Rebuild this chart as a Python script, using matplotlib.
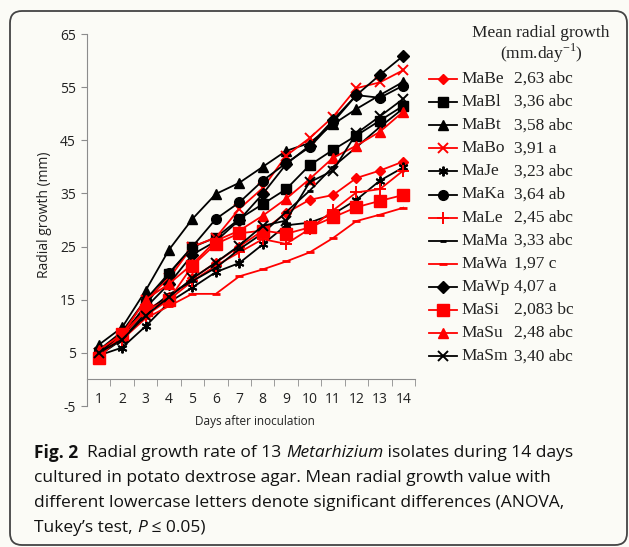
import matplotlib
matplotlib.use("Agg")
import matplotlib.pyplot as plt
from matplotlib.lines import Line2D
from matplotlib.patches import FancyBboxPatch

plt.rcParams["axes.unicode_minus"] = False

days = list(range(1, 15))
day_labels = [str(d) for d in days]

isolates = ["MaBe", "MaBl", "MaBt", "MaBo", "MaJe", "MaKa", "MaLe",
            "MaMa", "MaWa", "MaWp", "MaSi", "MaSu", "MaSm"]
mean_rates = ["2,63 abc", "3,36 abc", "3,58 abc", "3,91 a", "3,23 abc", "3,64 ab",
              "2,45 abc", "3,33 abc", "1,97 c", "4,07 a", "2,083 bc", "2,48 abc", "3,40 abc"]

MaBe = [5.5, 8.0, 13.0, 15.5, 19.0, 22.0, 25.0, 28.0, 31.3, 33.8, 34.7, 37.9, 39.3, 41.0]
MaBl = [4.5, 8.0, 14.0, 19.9, 24.9, 26.7, 30.2, 33.0, 35.8, 40.3, 43.2, 45.9, 48.7, 51.5]
MaBt = [6.5, 9.8, 16.7, 24.4, 30.2, 34.9, 37.0, 40.0, 43.0, 44.5, 48.0, 50.9, 53.5, 56.0]
MaBo = [5.0, 8.5, 15.0, 19.0, 25.0, 26.7, 32.1, 36.0, 42.1, 45.4, 49.4, 54.8, 55.9, 58.2]
MaJe = [4.5, 6.0, 10.0, 14.5, 17.3, 20.2, 21.9, 25.4, 29.0, 29.5, 31.1, 33.8, 37.4, 39.9]
MaKa = [5.5, 9.0, 15.0, 20.0, 25.0, 30.2, 33.3, 37.4, 40.7, 43.7, 48.4, 53.5, 53.0, 55.3]
MaLe = [5.0, 7.5, 12.0, 15.0, 18.5, 21.4, 23.9, 26.4, 25.5, 28.3, 31.8, 35.2, 35.8, 39.3]
MaMa = [4.5, 7.5, 12.5, 16.0, 18.5, 21.0, 24.5, 27.5, 31.5, 35.5, 40.0, 43.7, 47.5, 51.0]
MaWa = [5.0, 7.5, 11.5, 13.8, 16.1, 16.1, 19.4, 20.7, 22.2, 23.9, 26.6, 29.8, 31.0, 32.3]
MaWp = [5.0, 8.5, 13.5, 18.0, 23.5, 26.0, 30.0, 34.9, 40.5, 44.0, 48.8, 53.5, 57.3, 60.9]
MaSi = [4.0, 8.5, 13.0, 15.0, 21.4, 25.5, 27.5, 28.0, 27.4, 28.6, 30.5, 32.4, 33.6, 34.7]
MaSu = [5.5, 8.5, 15.0, 18.0, 21.7, 26.1, 28.0, 30.8, 34.0, 37.7, 41.7, 44.0, 46.6, 50.4]
MaSm = [5.0, 7.5, 12.0, 15.5, 19.0, 22.0, 25.2, 28.9, 29.9, 37.1, 39.3, 46.3, 49.5, 52.8]

series = [MaBe, MaBl, MaBt, MaBo, MaJe, MaKa, MaLe, MaMa, MaWa, MaWp, MaSi, MaSu, MaSm]

RED = "#ff0000"
BLK = "#000000"
styles = [
    (RED, "D", 5, 1.0),
    (BLK, "s", 7, 1.0),
    (BLK, "^", 7, 1.0),
    (RED, "x", 7, 1.4),
    (BLK, (6, 2, 0), 7, 1.4),
    (BLK, "o", 7, 1.0),
    (RED, "+", 8, 1.4),
    (BLK, "_", 5, 2.0),
    (RED, "_", 6, 2.0),
    (BLK, "D", 6, 1.0),
    (RED, "s", 8, 1.0),
    (RED, "^", 7, 1.0),
    (BLK, "x", 7, 1.4),
]

W, H = 629, 547
BG = "#fbfbf6"
fig = plt.figure(figsize=(W / 100, H / 100), dpi=100, facecolor=BG)

# rounded frame (pixel coordinates)
frame = FancyBboxPatch((10, 2), 617, H - 11 - 2,
                       boxstyle="round,pad=0,rounding_size=12",
                       transform=None, facecolor="none",
                       edgecolor="#444444", linewidth=1.3, zorder=0)
fig.add_artist(frame)

ax = fig.add_axes([87 / W, 141 / H, 328 / W, 372 / H])
ax.set_facecolor("none")

for vals, (col, mk, ms, mew) in zip(series, styles):
    ax.plot(days, vals, color=col, marker=mk, markersize=ms, linewidth=1.3,
            markeredgewidth=mew, markerfacecolor=col, markeredgecolor=col)

ax.set_xlim(0.5, 14.5)
ax.set_ylim(-5, 65)
ax.set_yticks([-5, 5, 15, 25, 35, 45, 55, 65])
ax.set_xticks(days)
ax.set_xticklabels(day_labels)
ax.set_xticks([d + 0.5 for d in range(0, 15)], minor=True)

for s in ["top", "right"]:
    ax.spines[s].set_visible(False)
ax.spines["left"].set_color("#8c8c8c")
ax.spines["bottom"].set_color("#8c8c8c")
ax.spines["bottom"].set_position(("data", 0))

ax.tick_params(axis="y", direction="out", length=4, color="#8c8c8c",
               labelsize=10, pad=4, labelcolor="#222222")
ax.tick_params(axis="x", which="major", length=0, pad=9, labelsize=10,
               labelcolor="#222222")
ax.tick_params(axis="x", which="minor", direction="out", length=5, color="#8c8c8c")

for lab in ax.get_xticklabels() + ax.get_yticklabels():
    lab.set_family("Open Sans")

fig.text(45 / W, 1 - 215 / H, "Radial growth (mm)", rotation=90,
         ha="center", va="center", fontsize=10, family="Open Sans", color="#222222")
fig.text(255 / W, 1 - 421 / H, "Days after inoculation", ha="center",
         va="center", fontsize=8.5, family="Open Sans", color="#222222")

# legend block
SERIF = "Liberation Serif"
fig.text(541 / W, 1 - 33 / H, "Mean radial growth", ha="center", va="center",
         fontsize=12.5, family=SERIF, color="#222222")
fig.text(541 / W, 1 - 53 / H, "(mm.day$^{\\mathregular{-1}}$)", ha="center", va="center",
         fontsize=12.5, family=SERIF, color="#222222")

y0 = 79
dy = 23.1
for i, (name, rate, (col, mk, ms, mew)) in enumerate(zip(isolates, mean_rates, styles)):
    yy = 1 - (y0 + i * dy) / H
    ln = Line2D([429 / W, 457 / W], [yy, yy], transform=fig.transFigure,
                color=col, linewidth=1.3)
    fig.add_artist(ln)
    mkr = Line2D([443 / W], [yy], transform=fig.transFigure, color=col,
                 marker=mk, markersize=ms, markeredgewidth=mew,
                 markerfacecolor=col, markeredgecolor=col, linestyle="none")
    fig.add_artist(mkr)
    fig.text(461 / W, yy, name, ha="left", va="center", fontsize=12.5,
             family=SERIF, color="#222222")
    fig.text(514 / W, yy, rate, ha="left", va="center", fontsize=12.5,
             family=SERIF, color="#222222")

# caption, built from pieces
cfont = "Open Sans"
csize = 12.5
ccol = "#111111"
renderer = fig.canvas.get_renderer()


def chain(x_px, y_px, pieces):
    x = x_px
    for txt, kw in pieces:
        t = fig.text(x / W, 1 - y_px / H, txt, ha="left", va="center",
                     fontsize=csize, family=cfont, color=ccol, **kw)
        bb = t.get_window_extent(renderer=renderer)
        x += bb.width


chain(34, 453, [("Fig. 2", {"fontweight": "bold"}),
                ("  Radial growth rate of 13 ", {}),
                ("Metarhizium", {"style": "italic"}),
                (" isolates during 14 days", {})])
chain(34, 478, [("cultured in potato dextrose agar. Mean radial growth value with", {})])
chain(34, 503, [("different lowercase letters denote significant differences (ANOVA,", {})])
chain(34, 528, [("Tukey’s test, ", {}), ("P", {"style": "italic"}), (" ≤ 0.05)", {})])

fig.savefig("out.png", dpi=100, facecolor=BG)
